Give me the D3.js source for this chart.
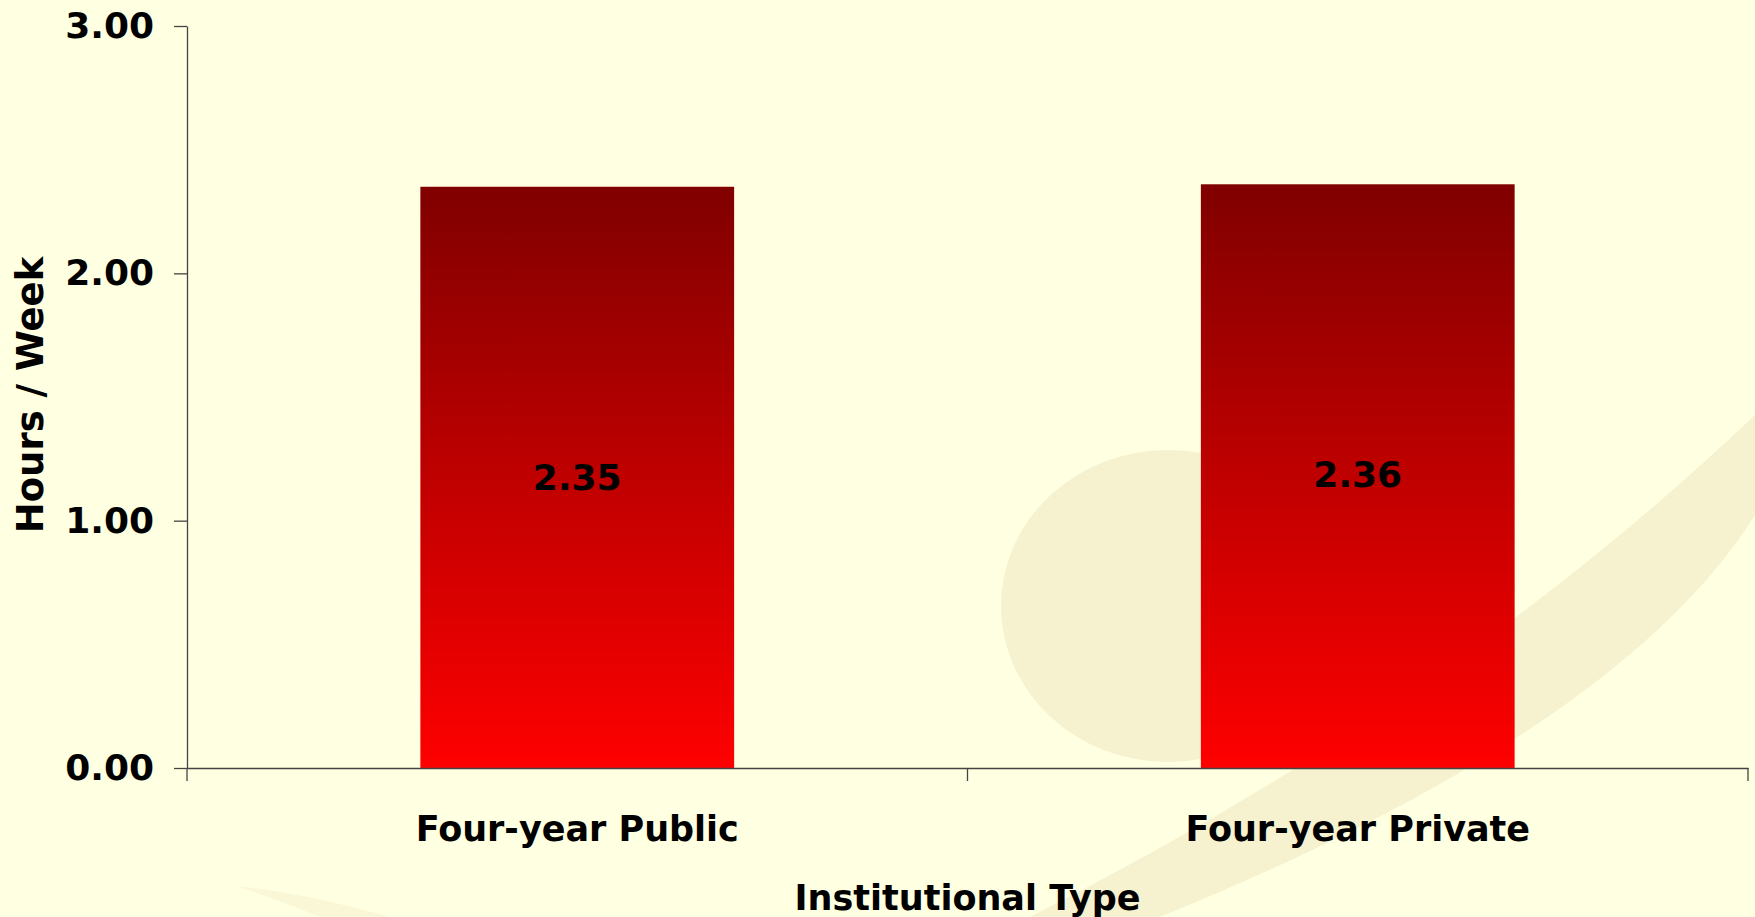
<!DOCTYPE html>
<html>
<head>
<meta charset="utf-8">
<script src="https://cdn.jsdelivr.net/npm/d3@7"></script>
<style>
  body { margin: 0; background: #FFFFE1; }
  svg { display: block; }
  text { font-family: "DejaVu Sans", Verdana, sans-serif; font-weight: bold; fill: #000; }
</style>
</head>
<body>
<svg id="chart"></svg>
<script>

var categories = ["Four-year Public", "Four-year Private"];
var values = [2.35, 2.36];
var yTicks = [0, 1, 2, 3];
var xTitle = "Institutional Type";
var yTitle = "Hours / Week";

var width = 1755,
    height = 917,
    margin = {top: 26, right: 7, bottom: 149, left: 187};

var svg = d3.select("#chart")
    .attr("width", width)
    .attr("height", height);

// bar gradient, dark maroon at the top to bright red at the base
var grad = svg.append("defs").append("linearGradient")
    .attr("id", "barGrad")
    .attr("x1", 0).attr("y1", 0)
    .attr("x2", 0).attr("y2", 1);
grad.append("stop").attr("offset", "0%").attr("stop-color", "#800000");
grad.append("stop").attr("offset", "100%").attr("stop-color", "#FF0000");

// faint watermark in the slide background
var wm = svg.append("g").attr("fill", "#F6F1CE");
wm.append("ellipse")
  .attr("cx", 1168).attr("cy", 606)
  .attr("rx", 167).attr("ry", 156);
wm.append("path")
  .attr("d", "M1755,415 Q1450,705 1030,917 L1160,917 Q1620,730 1755,515 Z");
wm.append("path")
  .attr("opacity", 0.6)
  .attr("d", "M236,886 Q300,892 390,917 L320,917 Q280,900 236,886 Z");

var x = d3.scaleBand()
    .domain(categories)
    .range([margin.left, width - margin.right])
    .paddingInner(0.598)
    .paddingOuter(0.299);

var y = d3.scaleLinear()
    .domain([0, 3])
    .range([height - margin.bottom, margin.top]);

// bars
svg.append("g")
  .selectAll("rect")
  .data(values)
  .enter().append("rect")
    .attr("x", function(d, i) { return x(categories[i]); })
    .attr("y", function(d) { return y(d); })
    .attr("width", x.bandwidth())
    .attr("height", function(d) { return y(0) - y(d); })
    .attr("fill", "url(#barGrad)");

// value labels in the middle of each bar
svg.append("g")
  .selectAll("text")
  .data(values)
  .enter().append("text")
    .attr("x", function(d, i) { return x(categories[i]) + x.bandwidth() / 2; })
    .attr("y", function(d) { return y(d) + 290; })
    .attr("text-anchor", "middle")
    .attr("dy", "0.36em")
    .style("font-size", "36px")
    .text(function(d) { return d3.format(".2f")(d); });

// y axis
var yAxis = svg.append("g")
    .attr("transform", "translate(" + margin.left + ",0)")
    .call(d3.axisLeft(y)
      .tickValues(yTicks)
      .tickFormat(d3.format(".2f"))
      .tickSize(13)
      .tickSizeOuter(0)
      .tickPadding(20));
yAxis.selectAll("text")
    .style("font-size", "36px")
    .style("font-family", null)
    .attr("fill", "#000");

// x axis: line, category labels, boundary ticks between groups
var xAxis = svg.append("g")
    .attr("transform", "translate(0," + y(0) + ")")
    .call(d3.axisBottom(x).tickSize(0).tickSizeOuter(0).tickPadding(73));
xAxis.selectAll("text")
    .style("font-size", "35px")
    .style("font-family", null)
    .attr("dy", null)
    .attr("fill", "#000");

var edges = d3.range(categories.length + 1).map(function(i) {
  return margin.left + i * x.step();
});
xAxis.selectAll(".edge")
  .data(edges)
  .enter().append("line")
    .attr("class", "edge")
    .attr("x1", function(d) { return d; })
    .attr("x2", function(d) { return d; })
    .attr("y1", 0)
    .attr("y2", 13);

svg.selectAll(".domain, .tick line, .edge")
    .attr("stroke", "#444")
    .attr("stroke-width", 1.3);

// axis titles
svg.append("text")
    .attr("x", (margin.left + width - margin.right) / 2)
    .attr("y", 910)
    .attr("text-anchor", "middle")
    .style("font-size", "35px")
    .text(xTitle);

svg.append("text")
    .attr("transform", "translate(43," + 395 + ") rotate(-90)")
    .attr("text-anchor", "middle")
    .style("font-size", "37px")
    .text(yTitle);

</script>
</body>
</html>
